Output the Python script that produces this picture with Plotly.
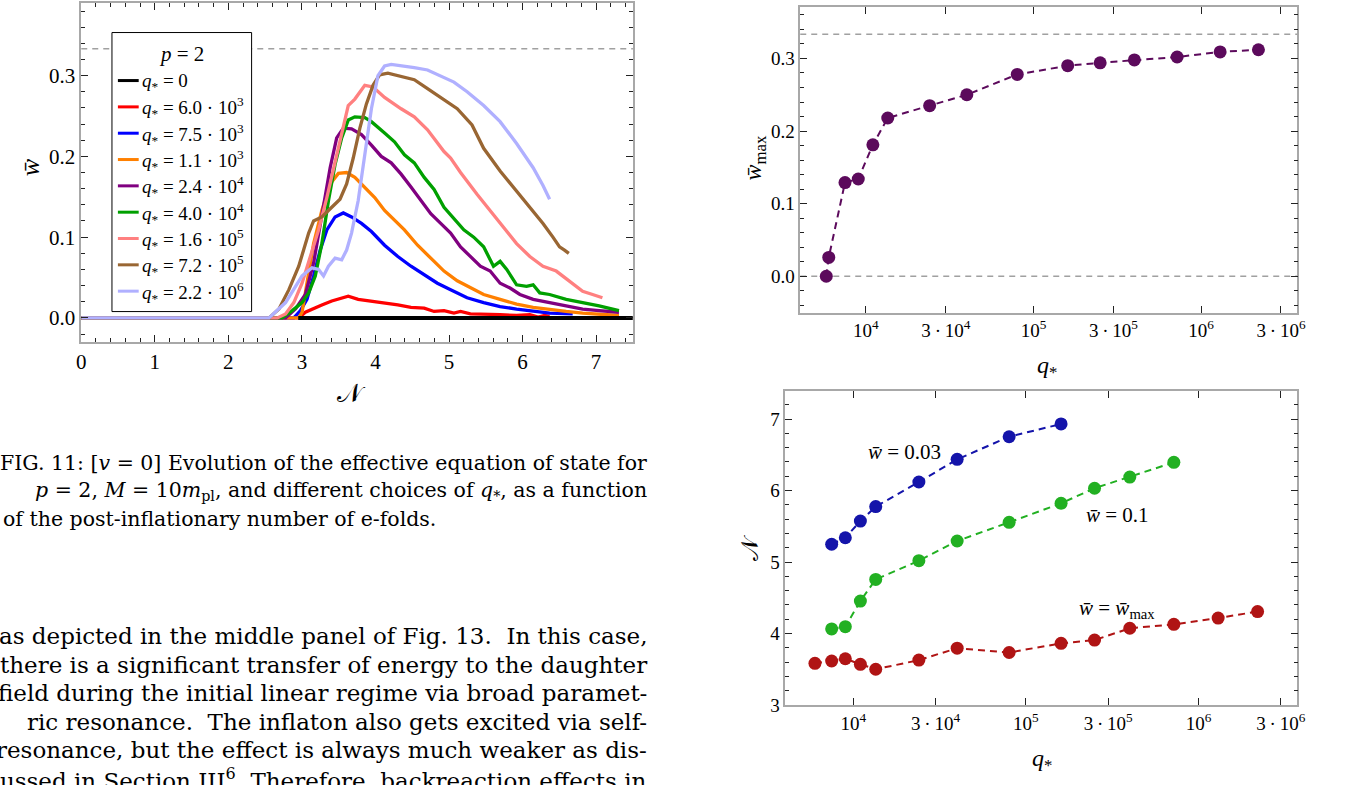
import plotly.graph_objects as go

W, H = 1346, 785
FONT = "Liberation Serif"
TEXT_FONT = "DejaVu Serif"

# ---------------- Left panel: w̄(N) for several q* ----------------
legend_labels = ["0", "6.0 · 10<sup>3</sup>", "7.5 · 10<sup>3</sup>", "1.1 · 10<sup>3</sup>",
                 "2.4 · 10<sup>4</sup>", "4.0 · 10<sup>4</sup>", "1.6 · 10<sup>5</sup>",
                 "7.2 · 10<sup>5</sup>", "2.2 · 10<sup>6</sup>"]
curve_colors = ["#000000", "#ff0000", "#0000ff", "#ff8000", "#800080",
                "#00a000", "#ff8080", "#996633", "#b0b0ff"]

N_q0 = [2.95, 7.5]
w_q0 = [0.0, 0.0]

N_6e3 = [0.0, 2.957, 3.047, 3.159, 3.271, 3.406, 3.541, 3.630, 3.765, 3.945, 4.124, 4.304, 4.483,
         4.663, 4.797, 4.932, 5.067, 5.157, 5.291, 5.471, 5.695, 5.919, 6.099, 6.211, 6.301, 6.368]
w_6e3 = [0.0, 0.0, 0.007, 0.012, 0.016, 0.021, 0.025, 0.027, 0.023, 0.021, 0.019, 0.016, 0.013,
         0.012, 0.008, 0.009, 0.006, 0.008, 0.005, 0.005, 0.004, 0.003, 0.004, 0.001, 0.003, 0.002]

N_7p5e3 = [0.0, 2.890, 2.980, 3.069, 3.159, 3.249, 3.339, 3.451, 3.563, 3.675, 3.810, 3.945, 4.124,
           4.304, 4.483, 4.663, 4.842, 5.022, 5.246, 5.471, 5.695, 5.919, 6.144, 6.368, 6.682]
w_7p5e3 = [0.0, 0.0, 0.009, 0.023, 0.052, 0.084, 0.109, 0.125, 0.130, 0.125, 0.117, 0.107, 0.090,
           0.076, 0.064, 0.054, 0.043, 0.035, 0.025, 0.019, 0.014, 0.011, 0.008, 0.006, 0.005]

N_1p1e4 = [0.0, 2.957, 3.002, 3.069, 3.159, 3.271, 3.384, 3.496, 3.608, 3.720, 3.855, 3.990, 4.124,
           4.259, 4.394, 4.573, 4.752, 4.932, 5.112, 5.291, 5.471, 5.695, 5.919, 6.144, 6.368,
           6.593, 6.817, 7.041, 7.311]
w_1p1e4 = [0.0, 0.0, 0.007, 0.043, 0.092, 0.133, 0.166, 0.179, 0.180, 0.174, 0.162, 0.149, 0.133,
           0.121, 0.109, 0.090, 0.074, 0.058, 0.046, 0.037, 0.029, 0.023, 0.017, 0.013, 0.010,
           0.008, 0.006, 0.005, 0.003]

N_2p4e4 = [0.0, 2.778, 2.913, 3.047, 3.159, 3.271, 3.384, 3.473, 3.563, 3.675, 3.810, 3.945, 4.079,
           4.214, 4.349, 4.483, 4.618, 4.752, 4.887, 5.022, 5.157, 5.291, 5.426, 5.560, 5.695,
           5.830, 5.964, 6.144, 6.368, 6.593, 6.817, 7.041, 7.311]
w_2p4e4 = [0.0, 0.0, 0.011, 0.029, 0.068, 0.125, 0.186, 0.223, 0.235, 0.234, 0.227, 0.214, 0.200,
           0.192, 0.178, 0.162, 0.145, 0.129, 0.117, 0.105, 0.088, 0.076, 0.064, 0.058, 0.043,
           0.037, 0.029, 0.023, 0.019, 0.014, 0.011, 0.009, 0.007]

N_4e4 = [0.0, 2.733, 2.868, 3.002, 3.092, 3.182, 3.271, 3.361, 3.451, 3.541, 3.630, 3.720, 3.855,
         3.945, 4.124, 4.259, 4.394, 4.528, 4.663, 4.797, 4.932, 5.067, 5.201, 5.336, 5.471,
         5.605, 5.695, 5.785, 5.919, 6.054, 6.144, 6.234, 6.368, 6.593, 6.817, 7.041, 7.311]
w_4e4 = [0.0, 0.0, 0.009, 0.019, 0.031, 0.052, 0.092, 0.145, 0.190, 0.223, 0.245, 0.249, 0.248,
         0.243, 0.229, 0.218, 0.202, 0.192, 0.174, 0.159, 0.137, 0.123, 0.109, 0.100, 0.088,
         0.064, 0.070, 0.060, 0.041, 0.039, 0.041, 0.031, 0.029, 0.023, 0.019, 0.015, 0.009]

N_1p6e5 = [0.0, 2.666, 2.778, 2.890, 3.002, 3.114, 3.227, 3.339, 3.451, 3.541, 3.630, 3.720, 3.855,
           3.967, 4.124, 4.349, 4.528, 4.708, 4.932, 5.022, 5.157, 5.381, 5.560, 5.740, 5.919,
           6.099, 6.278, 6.458, 6.637, 6.817, 6.952, 7.086]
w_1p6e5 = [0.0, 0.0, 0.005, 0.019, 0.043, 0.076, 0.109, 0.149, 0.194, 0.231, 0.263, 0.271, 0.288,
           0.286, 0.273, 0.259, 0.249, 0.233, 0.206, 0.198, 0.180, 0.153, 0.133, 0.113, 0.092,
           0.076, 0.064, 0.058, 0.046, 0.033, 0.029, 0.025]

N_7p2e5 = [0.0, 2.553, 2.688, 2.823, 2.957, 3.092, 3.159, 3.271, 3.406, 3.518, 3.608, 3.698, 3.788,
           3.877, 3.967, 4.057, 4.169, 4.349, 4.528, 4.708, 4.887, 5.112, 5.313, 5.471, 5.695,
           5.919, 6.144, 6.278, 6.413, 6.503, 6.570, 6.629]
w_7p2e5 = [0.0, 0.0, 0.011, 0.035, 0.064, 0.105, 0.120, 0.125, 0.137, 0.147, 0.166, 0.198, 0.235,
           0.265, 0.288, 0.301, 0.303, 0.299, 0.295, 0.284, 0.273, 0.259, 0.239, 0.210, 0.182,
           0.157, 0.133, 0.117, 0.100, 0.088, 0.084, 0.080]

N_2p2e6 = [0.0, 2.553, 2.778, 3.002, 3.137, 3.227, 3.294, 3.361, 3.451, 3.541, 3.608, 3.675, 3.765,
           3.855, 3.945, 4.034, 4.124, 4.214, 4.393, 4.528, 4.708, 4.887, 5.067, 5.246, 5.471,
           5.695, 5.919, 6.144, 6.278, 6.368]
w_2p2e6 = [0.0, 0.0, 0.019, 0.052, 0.062, 0.060, 0.052, 0.064, 0.074, 0.072, 0.084, 0.105, 0.145,
           0.202, 0.259, 0.300, 0.312, 0.314, 0.312, 0.310, 0.307, 0.300, 0.292, 0.280, 0.263,
           0.243, 0.216, 0.186, 0.164, 0.147]

curves_N = [N_q0, N_6e3, N_7p5e3, N_1p1e4, N_2p4e4, N_4e4, N_1p6e5, N_7p2e5, N_2p2e6]
curves_w = [w_q0, w_6e3, w_7p5e3, w_1p1e4, w_2p4e4, w_4e4, w_1p6e5, w_7p2e5, w_2p2e6]

# ---------------- Top right: w̄_max vs q* ----------------
q_top = [5.8e3, 6.0e3, 7.5e3, 9.0e3, 1.1e4, 1.35e4, 2.4e4, 4.0e4, 8.0e4, 1.6e5, 2.5e5, 4.0e5,
         7.2e5, 1.3e6, 2.2e6]
wmax_top = [0.0, 0.026, 0.129, 0.134, 0.181, 0.218, 0.235, 0.250, 0.278, 0.290, 0.294, 0.298,
            0.302, 0.309, 0.312]

# ---------------- Bottom right: N at given w̄ vs q* ----------------
q_wmax = [6.0e3, 7.5e3, 9.0e3, 1.1e4, 1.35e4, 2.4e4, 4.0e4, 8.0e4, 1.6e5, 2.5e5, 4.0e5, 7.2e5,
          1.3e6, 2.2e6]
N_wmax = [3.583, 3.615, 3.647, 3.569, 3.500, 3.628, 3.794, 3.734, 3.862, 3.908, 4.073, 4.128,
          4.216, 4.307]
q_w01 = [7.5e3, 9.0e3, 1.1e4, 1.35e4, 2.4e4, 4.0e4, 8.0e4, 1.6e5, 2.5e5, 4.0e5, 7.2e5]
N_w01 = [4.064, 4.096, 4.454, 4.757, 5.018, 5.294, 5.555, 5.821, 6.032, 6.188, 6.394]
q_w003 = [7.5e3, 9.0e3, 1.1e4, 1.35e4, 2.4e4, 4.0e4, 8.0e4, 1.6e5]
N_w003 = [5.248, 5.339, 5.573, 5.775, 6.119, 6.436, 6.752, 6.931]

log_tickvals = [1e4, 3e4, 1e5, 3e5, 1e6, 3e6]
log_ticktext = ["10<sup>4</sup>", "3\u2009·\u200910<sup>4</sup>", "10<sup>5</sup>",
                "3\u2009·\u200910<sup>5</sup>", "10<sup>6</sup>", "3\u2009·\u200910<sup>6</sup>"]

caption_lines = [
    "FIG. 11: [<i>v</i> = 0] Evolution of the effective equation of state for",
    "<i>p</i> = 2, <i>M</i> = 10<i>m</i><sub>pl</sub>, and different choices of <i>q</i><sub>*</sub>, as a function",
]
caption_last = "of the post-inflationary number of e-folds."
body_lines = [
    "as depicted in the middle panel of Fig. 13.  In this case,",
    "there is a significant transfer of energy to the daughter",
    "field during the initial linear regime via broad paramet-",
    "ric resonance.  The inflaton also gets excited via self-",
    "resonance, but the effect is always much weaker as dis-",
    "cussed in Section III<sup>6</sup>. Therefore, backreaction effects in",
]


def fx(px):
    return px / W


def fy(py):
    return 1 - py / H


fig = go.Figure()

# left panel curves (q*=0 drawn last so it sits on top)
order = list(range(1, 9)) + [0]
for i in order:
    fig.add_trace(go.Scatter(x=curves_N[i], y=curves_w[i], mode="lines",
                             line=dict(color=curve_colors[i], width=4 if i == 0 else 3.3),
                             xaxis="x", yaxis="y", showlegend=False, hoverinfo="skip"))

# top right
fig.add_trace(go.Scatter(x=q_top, y=wmax_top, mode="lines+markers",
                         line=dict(color="#5c0a5c", width=2, dash="7px,5px"),
                         marker=dict(color="#5c0a5c", size=13),
                         xaxis="x2", yaxis="y2", showlegend=False))

# bottom right
for qs, Ns, col in [(q_w003, N_w003, "#1414aa"), (q_w01, N_w01, "#22b022"), (q_wmax, N_wmax, "#b01414")]:
    fig.add_trace(go.Scatter(x=qs, y=Ns, mode="lines+markers",
                             line=dict(color=col, width=2, dash="7px,5px"),
                             marker=dict(color=col, size=13),
                             xaxis="x3", yaxis="y3", showlegend=False))

frame = dict(showline=True, linecolor="#a8a8a8", linewidth=1.5, mirror="ticks",
             ticks="inside", ticklen=7, tickwidth=1, tickcolor="#222222",
             showgrid=False, zeroline=False, tickfont=dict(family=FONT, size=21, color="black"))
frame_r = dict(frame, tickfont=dict(family=FONT, size=19, color="black"))
minor_t = dict(ticks="inside", ticklen=4, tickcolor="#222222")

fig.update_layout(
    width=W, height=H, margin=dict(l=0, r=0, t=0, b=0),
    paper_bgcolor="white", plot_bgcolor="white",
    font=dict(family=FONT, color="black"),
    xaxis=dict(frame, domain=[fx(77), fx(634)], range=[0, 7.5], tick0=0, dtick=1,
               minor=dict(minor_t, dtick=0.2), anchor="y"),
    yaxis=dict(frame, domain=[fy(347), fy(3)], range=[-0.030, 0.390], tick0=0, dtick=0.1,
               tickformat=".1f", minor=dict(minor_t, dtick=0.02), anchor="x"),
    xaxis2=dict(frame_r, domain=[fx(803), fx(1305)], type="log", range=[3.608, 6.575],
                tickvals=log_tickvals, ticktext=log_ticktext, anchor="y2"),
    yaxis2=dict(frame_r, domain=[fy(317), fy(7)], range=[-0.050, 0.371], tick0=0, dtick=0.1,
                tickformat=".1f", minor=dict(minor_t, dtick=0.02), anchor="x2"),
    xaxis3=dict(frame_r, domain=[fx(788), fx(1305)], type="log", range=[3.607, 6.573],
                tickvals=log_tickvals, ticktext=log_ticktext, anchor="y3"),
    yaxis3=dict(frame_r, domain=[fy(715), fy(397)], range=[3, 7.386], tick0=3, dtick=1,
                minor=dict(minor_t, dtick=0.2), anchor="x3"),
)

shapes = []
dash_gray = dict(color="#a0a0a0", width=1.5, dash="6px,5px")
shapes.append(dict(type="line", xref="x domain", yref="y", x0=0, x1=1, y0=1/3, y1=1/3, line=dash_gray))
shapes.append(dict(type="line", xref="x2 domain", yref="y2", x0=0, x1=1, y0=1/3, y1=1/3, line=dash_gray))
shapes.append(dict(type="line", xref="x2 domain", yref="y2", x0=0, x1=1, y0=0, y1=0, line=dash_gray, layer="below"))
# legend box
shapes.append(dict(type="rect", xref="paper", yref="paper", x0=fx(108), x1=fx(249), y0=fy(316), y1=fy(33),
                   fillcolor="white", line=dict(color="black", width=1)))


def note(px, py, text, size, font=FONT, xa="center", ya="middle", angle=0):
    return dict(xref="paper", yref="paper", x=fx(px), y=fy(py), text=text, showarrow=False,
                xanchor=xa, yanchor=ya, textangle=angle, font=dict(family=font, size=size, color="black"))


ann = []
ann.append(note(178, 55, "<i>p</i> = 2", 21))
for i, lab in enumerate(legend_labels):
    yy = 81.7 + 26.7 * i
    shapes.append(dict(type="line", xref="paper", yref="paper", x0=fx(114), x1=fx(135), y0=fy(yy), y1=fy(yy),
                       line=dict(color=curve_colors[i], width=3)))
    ann.append(note(136, yy + 1, "<i>q</i><sub>*</sub> = " + lab, 19, xa="left"))

# axis titles
ann.append(note(350, 399, "𝒩", 26))
ann.append(note(26, 170, "<i>w̄</i>", 26, angle=-90))
ann.append(note(757, 160, "<i>w̄</i><sub>max</sub>", 24, angle=-90))
ann.append(note(1052, 372, "<i>q</i><sub>*</sub>", 24))
ann.append(note(752, 555, "𝒩", 24, angle=-90))
ann.append(note(1047, 771, "<i>q</i><sub>*</sub>", 24))

# labels in bottom right panel
ann.append(dict(xref="x3", yref="y3", x=4.295, y=6.54, text="<i>w̄</i> = 0.03", showarrow=False,
                xanchor="center", yanchor="middle", font=dict(family=FONT, size=21)))
ann.append(dict(xref="x3", yref="y3", x=5.529, y=5.66, text="<i>w̄</i> = 0.1", showarrow=False,
                xanchor="center", yanchor="middle", font=dict(family=FONT, size=21)))
ann.append(dict(xref="x3", yref="y3", x=5.529, y=4.34, text="<i>w̄</i> = <i>w̄</i><sub>max</sub>",
                showarrow=False, xanchor="center", yanchor="middle", font=dict(family=FONT, size=21)))

# caption and body text
for i, line in enumerate(caption_lines):
    ann.append(note(650, 470 + 28 * i, line, 20.5, font=TEXT_FONT, xa="right"))
ann.append(note(-4, 526, caption_last, 20.5, font=TEXT_FONT, xa="left"))
for i, line in enumerate(body_lines):
    ann.append(note(650, 645 + 29 * i, line, 23, font=TEXT_FONT, xa="right"))

fig.update_layout(shapes=shapes, annotations=ann)
fig.write_html("out.html")
